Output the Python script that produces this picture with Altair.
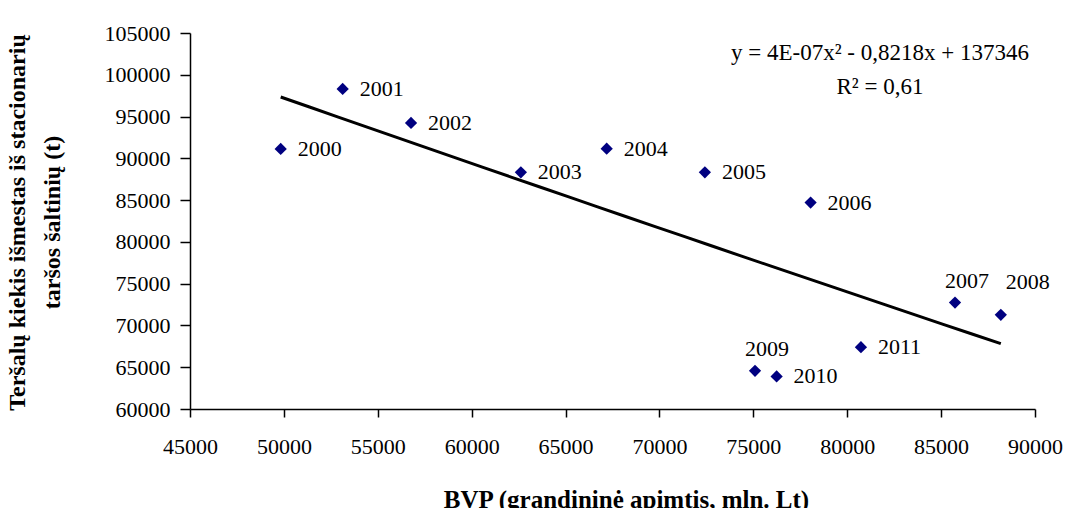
import altair as alt
import pandas as pd

years = [2000, 2001, 2002, 2003, 2004, 2005, 2006, 2007, 2008, 2009, 2010, 2011]
bvp = [49830, 53130, 56770, 62620, 67190, 72420, 78050, 85740, 88180, 75090, 76240, 80730]
pollution = [91120, 98300, 94230, 88330, 91150, 88330, 84700, 72740, 71270, 64570, 63890, 67400]

x_ticks = [45000, 50000, 55000, 60000, 65000, 70000, 75000, 80000, 85000, 90000]
y_ticks = [60000, 65000, 70000, 75000, 80000, 85000, 90000, 95000, 100000, 105000]

eq_lines = ["y = 4E-07x\u00b2 - 0,8218x + 137346", "R\u00b2 = 0,61"]

above_years = [2007, 2009]
above_right_years = [2008]

df = pd.DataFrame({"year": years, "bvp": bvp, "poll": pollution})
df["label"] = df["year"].astype(str)

FONT = "Liberation Serif"
NUM_SIZE = 22

x_enc = alt.X("bvp:Q",
              scale=alt.Scale(domain=[45000, 90000], nice=False, zero=False),
              axis=alt.Axis(values=x_ticks, format="d", title="BVP (grandininė apimtis, mln. Lt)",
                            tickSize=8, labelPadding=19, labelFlush=False, labelOverlap=False,
                            titleX=436, titleY=90, titleFontSize=25,
                            titleBaseline="middle", titleAnchor="start", titleAlign="center"))
y_enc = alt.Y("poll:Q",
              scale=alt.Scale(domain=[60000, 105000], nice=False, zero=False),
              axis=alt.Axis(values=y_ticks, format="d",
                            title=["Teršalų kiekis išmestas iš stacionarių", "taršos šaltinių (t)"],
                            tickSize=10, labelPadding=10, labelFlush=False, labelOverlap=False,
                            titleX=-173, titleY=189, titleFontSize=24,
                            titleBaseline="middle", titleAlign="center", titleAngle=-90,
                            titleLineHeight=35))

base = alt.Chart(df)

trend = base.transform_regression("bvp", "poll", method="poly", order=2).mark_line(
    color="black", strokeWidth=3
).encode(x=x_enc, y=y_enc)

points = base.mark_point(shape="diamond", filled=True, color="#000080", size=150, opacity=1).encode(
    x=x_enc, y=y_enc)

label_right = base.transform_filter(
    ~alt.FieldOneOfPredicate(field="year", oneOf=above_years + above_right_years)
).mark_text(align="left", baseline="middle", dx=17, font=FONT, fontSize=NUM_SIZE, color="black").encode(
    x=x_enc, y=y_enc, text="label:N")

label_above = base.transform_filter(
    alt.FieldOneOfPredicate(field="year", oneOf=above_years)
).mark_text(align="center", baseline="middle", dx=12, dy=-22, font=FONT, fontSize=NUM_SIZE, color="black").encode(
    x=x_enc, y=y_enc, text="label:N")

label_above_right = base.transform_filter(
    alt.FieldOneOfPredicate(field="year", oneOf=above_right_years)
).mark_text(align="center", baseline="middle", dx=27, dy=-33, font=FONT, fontSize=NUM_SIZE, color="black").encode(
    x=x_enc, y=y_enc, text="label:N")

equation = alt.Chart(pd.DataFrame({"k": [0]})).mark_text(
    align="center", baseline="middle", font=FONT, fontSize=23, color="black",
    lineHeight=34, text=eq_lines
).encode(x=alt.value(690), y=alt.value(20))

chart = alt.layer(trend, points, label_right, label_above, label_above_right, equation).properties(
    width=845, height=376,
    autosize="none",
    padding={"left": 190, "top": 33, "right": 31, "bottom": 99},
).configure_view(stroke=None).configure_axis(
    grid=False, domainColor="black", tickColor="black", domainWidth=1.5, tickWidth=1.5,
    labelFont=FONT, labelFontSize=NUM_SIZE, labelColor="black",
    titleFont=FONT, titleFontWeight="bold", titleColor="black",
)

chart.save("out.html", embed_options={"renderer": "svg", "actions": False})
